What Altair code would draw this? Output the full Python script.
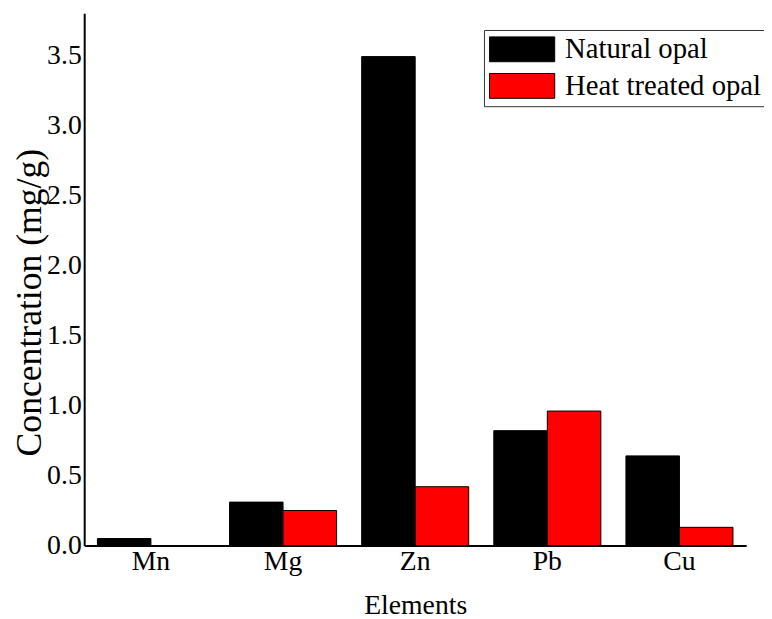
import altair as alt
import pandas as pd

elements = ["Mn", "Mg", "Zn", "Pb", "Cu"]
natural = [0.05, 0.31, 3.49, 0.82, 0.64]
heat = [0.0, 0.25, 0.42, 0.96, 0.13]
series = ["Natural opal", "Heat treated opal"]
colors = ["#000000", "#ff0000"]
y_ticks = [0.0, 0.5, 1.0, 1.5, 2.0, 2.5, 3.0, 3.5]

rows = []
for i, e in enumerate(elements):
    rows.append({"Element": e, "Sample": series[0], "Value": natural[i]})
    rows.append({"Element": e, "Sample": series[1], "Value": heat[i]})
df = pd.DataFrame(rows)

FONT = "Liberation Serif"

chart = alt.Chart(df).mark_bar(stroke="black", strokeWidth=1).encode(
    x=alt.X(
        "Element:N",
        sort=elements,
        scale=alt.Scale(paddingInner=0.19, paddingOuter=0.1),
        axis=alt.Axis(
            title="Elements", labelAngle=0, ticks=False, domainColor="black",
            domainWidth=2, labelFontSize=28, titleFontSize=28,
            labelPadding=2, titlePadding=17,
        ),
    ),
    xOffset=alt.XOffset("Sample:N", sort=series),
    y=alt.Y(
        "Value:Q",
        scale=alt.Scale(domain=[0, 3.8], nice=False),
        axis=alt.Axis(
            title="Concentration (mg/g)", values=y_ticks, format=".1f",
            ticks=False, grid=False, domainColor="black", domainWidth=2,
            labelFontSize=28, titleFontSize=36, labelPadding=3,
            titleX=-44, titleY=292, titleBaseline="alphabetic",
        ),
    ),
    color=alt.Color(
        "Sample:N",
        sort=series,
        scale=alt.Scale(domain=series, range=colors),
        legend=alt.Legend(
            title=None, orient="none", legendX=404, legendY=17,
            symbolType="M-1,-0.38H1V0.38H-1Z", symbolSize=4356,
            symbolStrokeColor="black", symbolStrokeWidth=1,
            symbolOpacity=1, labelFontSize=29, labelOffset=10,
            labelLimit=400, clipHeight=29,
            strokeColor="#333333", padding=5, rowPadding=7,
            labelFont=FONT, labelColor="black",
        ),
    ),
).properties(
    width=669,
    height=538,
    padding={"left": 77, "top": 2, "right": 18, "bottom": 71},
    autosize=alt.AutoSizeParams(type="none"),
).configure_axis(
    labelFont=FONT, titleFont=FONT, labelColor="black", titleColor="black",
    titleFontWeight="normal",
).configure_view(stroke=None)

chart.save("out.html", embed_options={"renderer": "svg", "actions": False})
